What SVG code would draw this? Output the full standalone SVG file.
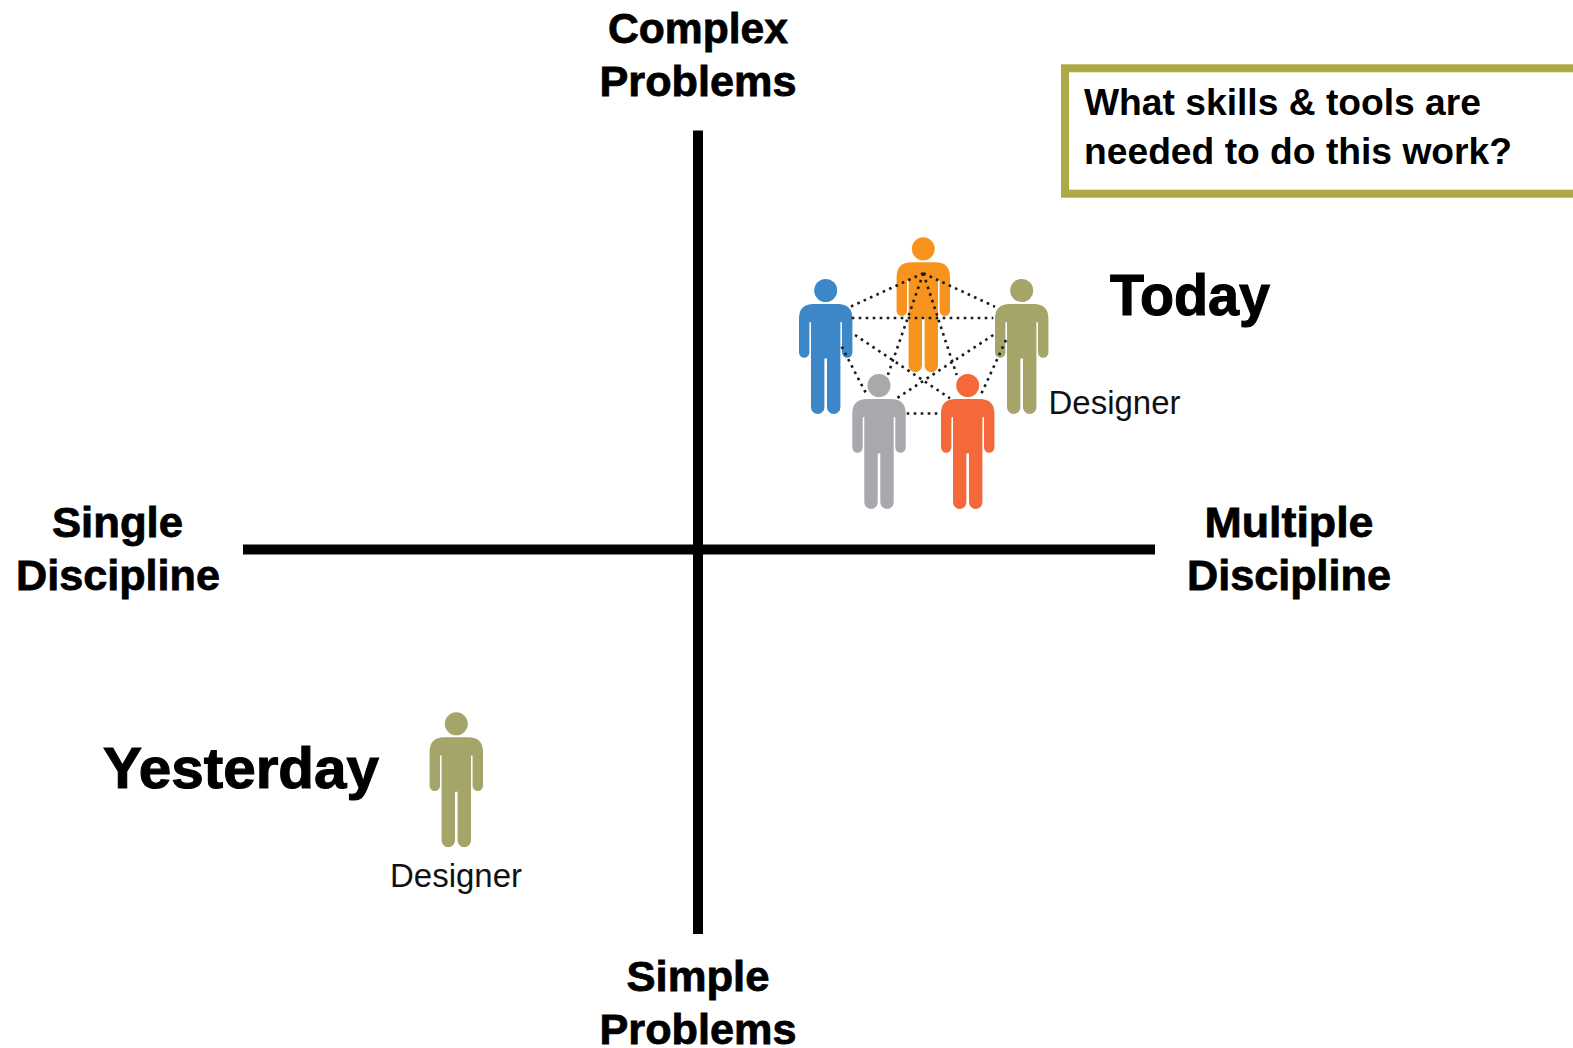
<svg xmlns="http://www.w3.org/2000/svg" width="1573" height="1048" viewBox="0 0 1573 1048">
<style>
text{font-family:"Liberation Sans",Arial,sans-serif;fill:#000}
.ax{font-weight:bold;font-size:43px;text-anchor:middle;stroke:#000;stroke-width:.8px}
.big{font-weight:bold;font-size:57px;stroke:#000;stroke-width:1.1px}
.des{font-size:34px;fill:#111}
.q{font-weight:bold;font-size:37px}
.axis{stroke:#000;stroke-width:10;fill:none}
.dot{stroke:#1a1a1a;stroke-width:2.6;stroke-dasharray:2.6 4.4;fill:none}
</style>
<defs>
<g id="person">
<circle cx="0" cy="0" r="11.5"/>
<path d="M-12 13.4H12Q26.7 13.4 26.7 28V62A5.2 5.2 0 0 1 16.3 62V31.7H14.7V116.7A6.7 6.7 0 0 1 1.3 116.7V68H-1.3V116.7A6.7 6.7 0 0 1-14.7 116.7V31.7H-16.3V62A5.2 5.2 0 0 1-26.7 62V28Q-26.7 13.4-12 13.4Z"/>
</g>
</defs>
<rect width="1573" height="1048" fill="#fff"/>
<g id="axes">
<line class="axis" x1="698" y1="130.5" x2="698" y2="934"/>
<line class="axis" x1="243" y1="549.5" x2="1155" y2="549.5"/>
</g>
<g id="label-complex"><text class="ax" x="698" y="42.5" textLength="180" lengthAdjust="spacingAndGlyphs">Complex</text><text class="ax" x="698" y="96" textLength="197" lengthAdjust="spacingAndGlyphs">Problems</text></g>
<g id="label-simple"><text class="ax" x="698" y="991" textLength="143" lengthAdjust="spacingAndGlyphs">Simple</text><text class="ax" x="698" y="1044" textLength="197" lengthAdjust="spacingAndGlyphs">Problems</text></g>
<g id="label-single"><text class="ax" x="117.5" y="537" textLength="131" lengthAdjust="spacingAndGlyphs">Single</text><text class="ax" x="118" y="590" textLength="204" lengthAdjust="spacingAndGlyphs">Discipline</text></g>
<g id="label-multiple"><text class="ax" x="1289" y="537" textLength="169" lengthAdjust="spacingAndGlyphs">Multiple</text><text class="ax" x="1289" y="590" textLength="204" lengthAdjust="spacingAndGlyphs">Discipline</text></g>
<g id="question">
<rect x="1065" y="68.3" width="520" height="125.4" fill="#fff" stroke="#ADA947" stroke-width="8"/>
<text class="q" x="1084" y="115" textLength="397" lengthAdjust="spacingAndGlyphs">What skills &amp; tools are</text>
<text class="q" x="1084" y="163.5" textLength="428" lengthAdjust="spacingAndGlyphs">needed to do this work?</text>
</g>
<g id="person-orange" fill="#F7941E"><use href="#person" x="923.3" y="248.8"/></g>
<g id="person-blue" fill="#3B87C8"><use href="#person" x="825.7" y="290.5"/></g>
<g id="person-olive" fill="#A5A469"><use href="#person" x="1021.7" y="290.5"/></g>
<g id="person-gray" fill="#A7A9AC"><use href="#person" x="879" y="385.5"/></g>
<g id="person-red" fill="#F4683A"><use href="#person" x="967.7" y="385.5"/></g>
<g id="connectors">
<line class="dot" x1="923.3" y1="273.3" x2="848.3" y2="307.7"/>
<line class="dot" x1="923.3" y1="273.3" x2="995" y2="306.7"/>
<line class="dot" x1="923.3" y1="273.3" x2="886.7" y2="378.3"/>
<line class="dot" x1="923.3" y1="273.3" x2="956.7" y2="375"/>
<line class="dot" x1="851.7" y1="318" x2="993.3" y2="318"/>
<line class="dot" x1="855" y1="335" x2="950" y2="398.3"/>
<line class="dot" x1="993.3" y1="335" x2="896.7" y2="398.3"/>
<line class="dot" x1="906.7" y1="413.5" x2="940" y2="413.5"/>
<line class="dot" x1="841.7" y1="346.7" x2="866" y2="393.3"/>
<line class="dot" x1="1006" y1="340" x2="980" y2="396.7"/>
</g>
<g id="label-today"><text class="big" x="1110" y="314.5" textLength="160" lengthAdjust="spacingAndGlyphs">Today</text><text class="des" x="1048.5" y="413.5" textLength="132" lengthAdjust="spacingAndGlyphs">Designer</text></g>
<g id="yesterday">
<text class="big" x="103" y="788" textLength="276" lengthAdjust="spacingAndGlyphs">Yesterday</text>
<g id="person-yesterday" fill="#A5A469"><use href="#person" x="456.3" y="723.8"/></g>
<text class="des" x="390" y="887" textLength="132" lengthAdjust="spacingAndGlyphs">Designer</text>
</g>
</svg>
